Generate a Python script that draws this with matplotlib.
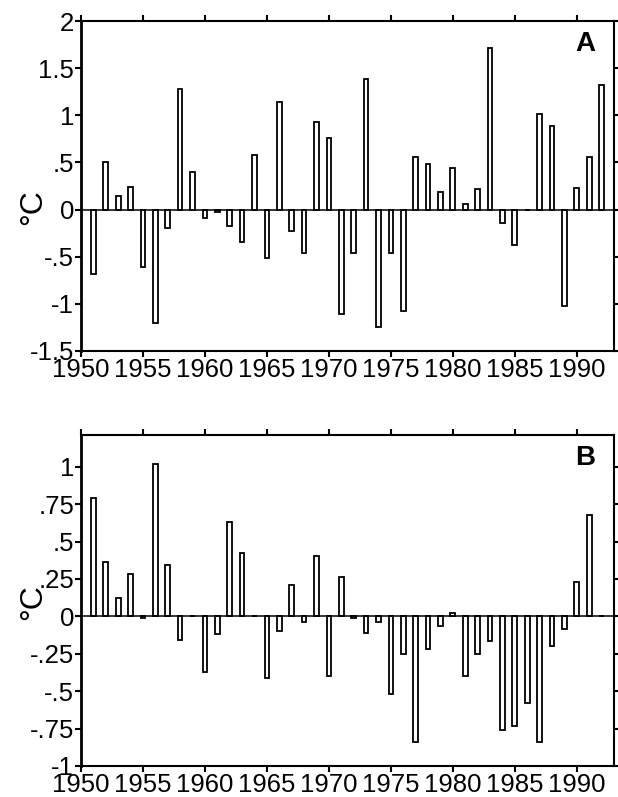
import matplotlib
matplotlib.use("Agg")
import matplotlib.pyplot as plt

plt.rcParams['font.family'] = ['Liberation Sans', 'DejaVu Sans']

# Jahre und Anomalien (°C)
years = list(range(1951, 1993))

anom_a = [-0.68, 0.50, 0.14, 0.24, -0.61, -1.20, -0.20, 1.28, 0.40, -0.09,
          -0.03, -0.17, -0.34, 0.58, -0.51, 1.14, -0.23, -0.46, 0.93, 0.76,
          -1.11, -0.46, 1.38, -1.25, -0.46, -1.08, 0.56, 0.48, 0.19, 0.44,
          0.06, 0.22, 1.71, -0.14, -0.38, 0.0, 1.01, 0.89, -1.02, 0.23,
          0.56, 1.32]

anom_b = [0.79, 0.36, 0.12, 0.28, -0.013, 1.02, 0.34, -0.16, 0.0, -0.37,
          -0.115, 0.63, 0.42, 0.0, -0.41, -0.10, 0.21, -0.04, 0.40, -0.40,
          0.26, -0.01, -0.11, -0.04, -0.52, -0.25, -0.84, -0.22, -0.065, 0.02,
          -0.40, -0.25, -0.165, -0.76, -0.73, -0.58, -0.84, -0.20, -0.085, 0.23,
          0.68, 0.0]

xticks = [1950, 1955, 1960, 1965, 1970, 1975, 1980, 1985, 1990]
yticks_a = [-1.5, -1, -0.5, 0, 0.5, 1, 1.5, 2]
ylabels_a = ['-1.5', '-1', '-.5', '0', '.5', '1', '1.5', '2']
yticks_b = [-1, -0.75, -0.5, -0.25, 0, 0.25, 0.5, 0.75, 1]
ylabels_b = ['-1', '-.75', '-.5', '-.25', '0', '.25', '.5', '.75', '1']


def draw_panel(ax, values, yticks, ylabels, ylim, letter, label_y):
    ax.bar(years, values, width=0.38, color='white', edgecolor='black',
           linewidth=1.3)
    ax.axhline(0, color='black', linewidth=1.1)
    ax.set_xlim(1950, 1993)
    ax.set_ylim(*ylim)
    ax.set_xticks(xticks)
    ax.set_yticks(yticks)
    ax.set_yticklabels(ylabels)
    ax.tick_params(direction='out', length=4, width=1.5, labelsize=18.5,
                   top=True, right=True, pad=1)
    for s in ax.spines.values():
        s.set_linewidth(1.5)
    ax.spines['left'].set_linewidth(2)
    # °C als Achsentitel, links neben den Tick-Beschriftungen
    ax.text(-0.09, label_y, '°C', transform=ax.transAxes, fontsize=23,
            rotation=90, ha='center', va='center')
    ax.text(0.965, 0.93, letter, transform=ax.transAxes, fontsize=20,
            fontweight='bold', ha='right', va='center')


fig = plt.figure(figsize=(6.18, 7.97), dpi=100)
ax1 = fig.add_axes([0.131, 0.5596, 0.8625, 0.414])
ax2 = fig.add_axes([0.131, 0.0389, 0.8625, 0.415])

draw_panel(ax1, anom_a, yticks_a, ylabels_a, (-1.5, 2), 'A', 0.436)
draw_panel(ax2, anom_b, yticks_b, ylabels_b, (-1, 1.21), 'B', 0.495)

fig.savefig('out.png', dpi=100)
